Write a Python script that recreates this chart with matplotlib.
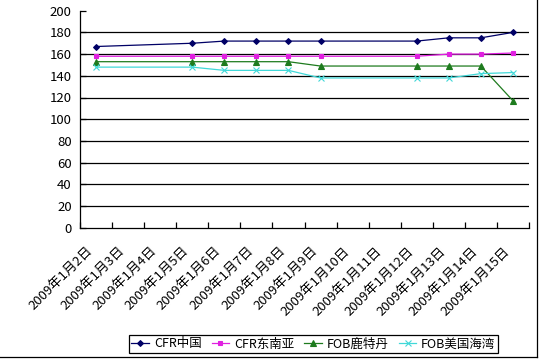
import matplotlib
matplotlib.use('Agg')
import matplotlib.pyplot as plt
import matplotlib.transforms as mtransforms
from matplotlib.lines import Line2D
import numpy as np

plt.rcParams['font.family'] = ['Noto Sans CJK SC', 'DejaVu Sans']

# данные: даты и цены (выходные пропущены)
dates = ['2009年1月2日', '2009年1月3日', '2009年1月4日', '2009年1月5日',
         '2009年1月6日', '2009年1月7日', '2009年1月8日', '2009年1月9日',
         '2009年1月10日', '2009年1月11日', '2009年1月12日', '2009年1月13日',
         '2009年1月14日', '2009年1月15日']
cfr_china = [167, None, None, 170, 172, 172, 172, 172, None, None, 172, 175, 175, 180]
cfr_sea = [158, None, None, 158, 158, 158, 158, 158, None, None, 158, 160, 160, 161]
fob_rotterdam = [153, None, None, 153, 153, 153, 153, 149, None, None, 149, 149, 149, 117]
fob_usgulf = [148, None, None, 148, 145, 145, 145, 138, None, None, 138, 138, 142, 143]

series = [
    ('CFR中国', cfr_china, '#000066', 'D', 3),
    ('CFR东南亚', cfr_sea, '#E020E0', 's', 3.5),
    ('FOB鹿特丹', fob_rotterdam, '#1E7B1E', '^', 4),
    ('FOB美国海湾', fob_usgulf, '#40D8D8', 'x', 4),
]

fig = plt.figure(figsize=(5.44, 3.59), dpi=100)
ax = fig.add_axes([80 / 544, 1 - 227.7 / 359, 449 / 544, 217 / 359])

for name, vals, color, marker, ms in series:
    xs = [i for i, v in enumerate(vals) if v is not None]
    ys = [v for v in vals if v is not None]
    ax.plot(xs, ys, color=color, linewidth=0.9, marker=marker, markersize=ms,
            markeredgewidth=0.8, label=name)

ax.set_xlim(-0.5, len(dates) - 0.5)
ax.set_ylim(0, 200)
ax.set_yticks(np.arange(0, 201, 20))
for yv in range(20, 200, 20):
    ax.axhline(yv, color='black', linewidth=0.9, zorder=0)

ax.set_xticks(range(len(dates)))
ax.set_xticklabels(dates, rotation=45, ha='right', rotation_mode='anchor', fontsize=9.5)
ax.set_xticks(np.arange(-0.5, len(dates), 1), minor=True)
ax.tick_params(axis='x', which='major', length=0, pad=12)
ax.tick_params(axis='x', which='minor', direction='in', length=4, width=0.9)
ax.tick_params(axis='y', direction='in', length=4, width=0.9, labelsize=9.5, pad=6)

# сдвиг подписей дат влево
shift = mtransforms.ScaledTranslation(-10 / 100, 0, fig.dpi_scale_trans)
for lbl in ax.get_xticklabels():
    lbl.set_transform(lbl.get_transform() + shift)

ax.spines['top'].set_visible(False)
ax.spines['right'].set_visible(False)
ax.spines['left'].set_linewidth(0.9)
ax.spines['bottom'].set_linewidth(0.9)

leg = fig.legend(loc='center', bbox_to_anchor=(313.5 / 544, 1 - 344 / 359), ncol=4,
                 fontsize=9, handlelength=1.4, handletextpad=0.4, columnspacing=0.8,
                 fancybox=False, edgecolor='black', framealpha=1, borderpad=0.2,
                 borderaxespad=0)
leg.get_frame().set_linewidth(0.9)

# рамка диаграммы справа и снизу
fig.add_artist(Line2D([537 / 544, 537 / 544], [1 - 357 / 359, 1], color='black', linewidth=0.9))
fig.add_artist(Line2D([0, 537 / 544], [1 - 357 / 359, 1 - 357 / 359], color='black', linewidth=0.9))

fig.savefig('out.png', dpi=100)
